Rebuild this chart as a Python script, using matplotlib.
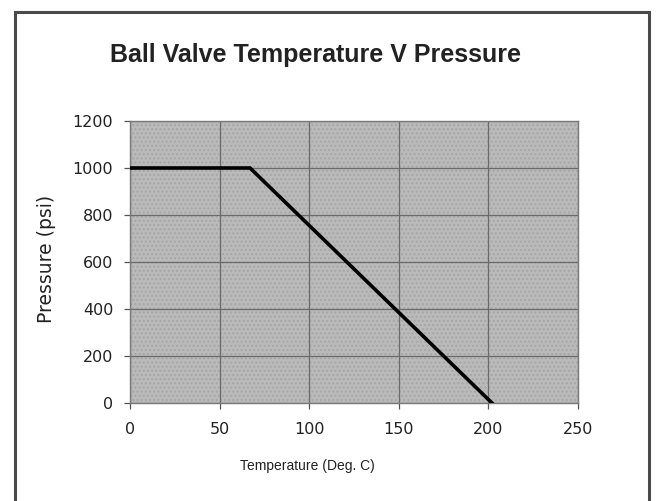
import matplotlib
matplotlib.use("Agg")
import matplotlib.pyplot as plt
from matplotlib.patches import Rectangle

# Pressure rating curve for the ball valve
temperature = [0, 67, 202]
pressure = [1000, 1000, 0]

x_ticks = [0, 50, 100, 150, 200, 250]
y_ticks = [0, 200, 400, 600, 800, 1000, 1200]

plt.rcParams['font.family'] = ['Liberation Sans', 'DejaVu Sans']

fig = plt.figure(figsize=(6.57, 5.01), dpi=100)
fig.patch.set_facecolor('white')

# chart frame around everything (open at the bottom)
frame = Rectangle((15 / 657, -0.05), (649 - 15) / 657, 1.05 - 12 / 501,
                  transform=fig.transFigure, fill=False,
                  edgecolor='#4a4a4a', linewidth=2.2)
fig.patches.append(frame)

ax = fig.add_axes([130 / 657, 1 - 403 / 501, (578 - 130) / 657, (403 - 121) / 501])
ax.set_facecolor('#bababa')
ax.add_patch(Rectangle((0, 0), 1, 1, transform=ax.transAxes, fill=False,
                       hatch='....', edgecolor='#a6a6a6', linewidth=0, zorder=0))

ax.plot(temperature, pressure, color='black', linewidth=2.6, zorder=3,
        solid_joinstyle='miter')

ax.set_xlim(0, 250)
ax.set_ylim(0, 1200)
ax.set_xticks(x_ticks)
ax.set_yticks(y_ticks)
ax.grid(True, color='#6a6a6a', linewidth=0.9)
ax.set_axisbelow(True)
for s in ax.spines.values():
    s.set_color('#7a7a7a')
    s.set_linewidth(1.0)
ax.tick_params(direction='out', length=4, width=0.9, color='#555555',
               labelcolor='#222222')
for lab in ax.get_xticklabels() + ax.get_yticklabels():
    lab.set_fontfamily('DejaVu Sans')
    lab.set_fontsize(11.5)
ax.tick_params(axis='x', pad=10)
ax.tick_params(axis='y', pad=8)

fig.text(315 / 657, 1 - 55 / 501, 'Ball Valve Temperature V Pressure',
         ha='center', va='center', fontsize=18, fontweight='bold', color='#222222')
fig.text(307 / 657, 1 - 466 / 501, 'Temperature (Deg. C)',
         ha='center', va='center', fontsize=10, color='#222222')
fig.text(47 / 657, 1 - 259 / 501, 'Pressure (psi)', rotation=90,
         ha='center', va='center', fontsize=13.5, family='DejaVu Sans',
         color='#222222')

fig.savefig('out.png', dpi=100)
